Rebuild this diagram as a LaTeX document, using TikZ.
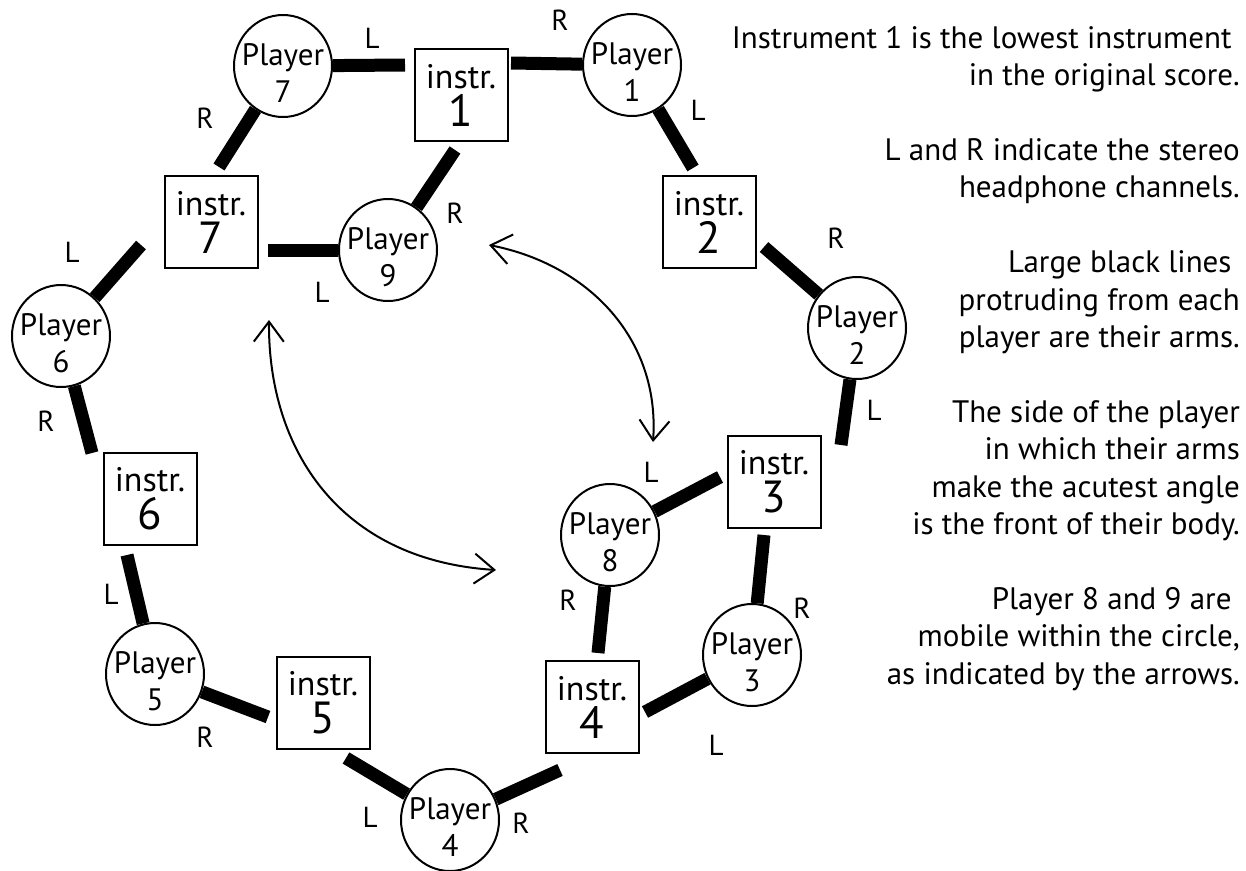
\documentclass[tikz,border=0pt]{standalone}
\usepackage{fontspec}
\setmainfont{PT Sans}
\usetikzlibrary{arrows.meta,shapes.geometric}
\newcommand{\pltext}[1]{\makebox[0pt][c]{\raisebox{1pt}[0pt][0pt]{\vtop{\baselineskip=37pt\halign{\hfil##\hfil\cr Player\cr #1\cr}}}}}
\newcommand{\instrtext}[1]{instr.\\{\fontsize{45}{38}\selectfont #1}}
\begin{document}
\begin{tikzpicture}[x=1pt,y=-1pt,
  player/.style={draw,line width=2pt,ellipse,minimum width=98pt,minimum height=102pt,inner sep=0pt,font=\fontsize{31}{37}\selectfont},
  instr/.style={draw,line width=2pt,rectangle,minimum width=93pt,minimum height=92pt,inner sep=0pt,align=center,font=\fontsize{34}{38}\selectfont},
  arm/.style={line width=13pt},
  lab/.style={font=\fontsize{29}{30}\selectfont,inner sep=0pt},
  move/.style={line width=2pt,{Straight Barb[length=20pt,width=30pt,line width=2pt]}-{Straight Barb[length=20pt,width=30pt,line width=2pt]}}
]
\useasboundingbox (0,0) rectangle (1246,870);
% instrument boxes
\node[instr] (i1) at (461,95) {\instrtext{1}};
\node[instr] (i2) at (709,222) {\instrtext{2}};
\node[instr] (i3) at (774,482) {\instrtext{3}};
\node[instr] (i4) at (592,707) {\instrtext{4}};
\node[instr] (i5) at (323,703) {\instrtext{5}};
\node[instr] (i6) at (150,499) {\instrtext{6}};
\node[instr] (i7) at (211,222) {\instrtext{7}};
% players
\node[player] (p1) at (632,65) {\pltext{1}};
\node[player] (p2) at (857,328) {\pltext{2}};
\node[player] (p3) at (752,655) {\pltext{3}};
\node[player] (p4) at (450,820) {\pltext{4}};
\node[player] (p5) at (155,674) {\pltext{5}};
\node[player] (p6) at (61,336) {\pltext{6}};
\node[player] (p7) at (283,66) {\pltext{7}};
\node[player] (p8) at (610,535) {\pltext{8}};
\node[player] (p9) at (388,250) {\pltext{9}};
% arm ends
\coordinate (e7L) at (405,65);
\coordinate (e7R) at (219,167);
\coordinate (e1R) at (511,63);
\coordinate (e1L) at (693,168);
\coordinate (e9R) at (455,150);
\coordinate (e9L) at (268,250);
\coordinate (e6L) at (141,245);
\coordinate (e6R) at (92,453);
\coordinate (e5L) at (127,555);
\coordinate (e5R) at (268,717);
\coordinate (e4L) at (346,758);
\coordinate (e4R) at (560,770);
\coordinate (e3L) at (645,712);
\coordinate (e3R) at (764,535);
\coordinate (e8R) at (598,653);
\coordinate (e8L) at (720,477);
\coordinate (e2R) at (764,247);
\coordinate (e2L) at (841,445);
\foreach \p/\e in {p7/e7L,p7/e7R,p1/e1R,p1/e1L,p9/e9R,p9/e9L,p6/e6L,p6/e6R,p5/e5L,p5/e5R,p4/e4L,p4/e4R,p3/e3L,p3/e3R,p8/e8R,p8/e8L,p2/e2R,p2/e2L}
  \draw[arm] (\p) -- (\e);
% channel labels
\node[lab] (l1) at (372,38) {L};
\node[lab] (l2) at (560,20) {R};
\node[lab] (l3) at (205,118) {R};
\node[lab] (l4) at (698,110) {L};
\node[lab] (l5) at (455,213) {R};
\node[lab] (l6) at (322,292) {L};
\node[lab] (l7) at (72,252) {L};
\node[lab] (l8) at (836,238) {R};
\node[lab] (l9) at (46,421) {R};
\node[lab] (l10) at (874,410) {L};
\node[lab] (l11) at (651,472) {L};
\node[lab] (l12) at (802,608) {R};
\node[lab] (l13) at (111,594) {L};
\node[lab] (l14) at (568,600) {R};
\node[lab] (l15) at (205,737) {R};
\node[lab] (l16) at (716,745) {L};
\node[lab] (l17) at (370,817) {L};
\node[lab] (l18) at (521,823) {R};
% mobility arrows
\coordinate (a1s) at (489,245);
\coordinate (a1e) at (653,442);
\coordinate (a2s) at (269,320);
\coordinate (a2e) at (496,570);
\draw[move] (a1s) .. controls (590,265) and (660,340) .. (a1e);
\draw[move] (a2s) .. controls (268,450) and (340,560) .. (a2e);
% notes
\node[anchor=north east,align=right,inner sep=0pt,font=\fontsize{31}{37.4}\selectfont] (notes) at (1240,26) {%
Instrument 1 is the lowest instrument\hphantom{ }\\
in the original score.\\[37.4pt]
L and R indicate the stereo\\
headphone channels.\\[37.4pt]
Large black lines\hphantom{ }\\
protruding from each\\
player are their arms.\\[37.4pt]
The side of the player\\
in which their arms\\
make the acutest angle\\
is the front of their body.\\[37.4pt]
Player 8 and 9 are\hphantom{ }\\
mobile within the circle,\\
as indicated by the arrows.};
\end{tikzpicture}
\end{document}
